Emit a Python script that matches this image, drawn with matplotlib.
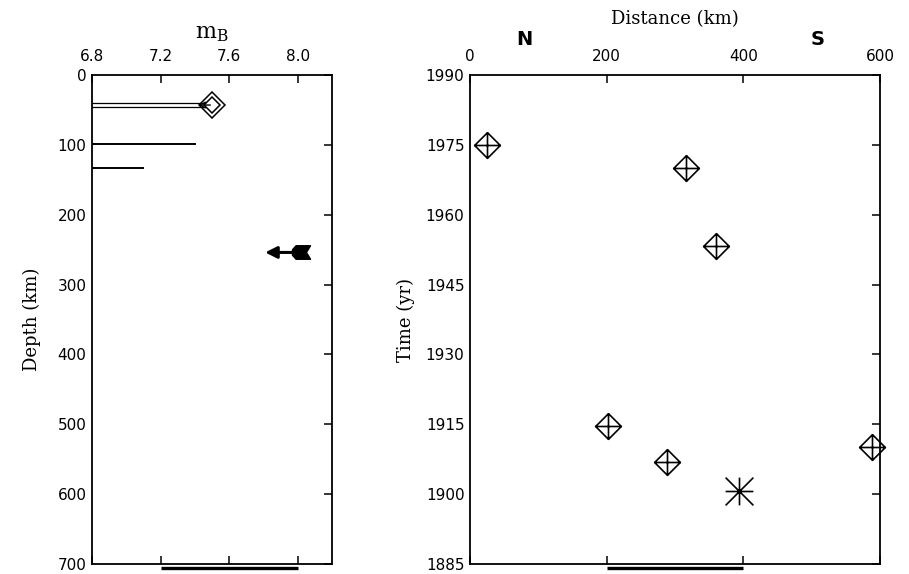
import numpy as np
import matplotlib
matplotlib.use('Agg')
import matplotlib.pyplot as plt
from matplotlib.path import Path

# left panel: magnitude vs depth
mb_bars = [7.5, 7.4, 7.1]          # mB reached by each bar
depth_bars = [43, 99, 133]         # km
double_bar = [True, False, False]
arrow_depth = 254
arrow_mb = [8.07, 7.81]            # tail, head

# right panel: distance vs time
dist = [25, 316, 360, 202, 288, 588]
year = [1975, 1970, 1953.3, 1914.6, 1906.8, 1910.2]
star_dist = [394]
star_year = [1900.7]

mb_ticks = [6.8, 7.2, 7.6, 8.0]
depth_ticks = [0, 100, 200, 300, 400, 500, 600, 700]
dist_ticks = [0, 200, 400, 600]
year_ticks = [1885, 1900, 1915, 1930, 1945, 1960, 1975, 1990]

serif = 'DejaVu Serif'
tickfont = 11

# marker shapes
M, L = Path.MOVETO, Path.LINETO
diamond_cross = Path(
    [(0, 1), (1, 0), (0, -1), (-1, 0), (0, 1), (-1, 0), (1, 0), (0, -1), (0, 1)],
    [M, L, L, L, L, M, L, M, L])
star = Path(
    [(-1, 0), (1, 0), (0, -1), (0, 1), (-1, -1), (1, 1), (-1, 1), (1, -1)],
    [M, L, M, L, M, L, M, L])
fletch = Path(
    [(-1, 0.3), (-0.6, 0.75), (1, 0.75), (0.55, 0), (1, -0.75), (-0.6, -0.75),
     (-1, -0.3), (-1, 0.3)],
    [M, L, L, L, L, L, L, L])

fig = plt.figure(figsize=(9.09, 5.74), dpi=100)
ax1 = fig.add_axes([92/909, 1-564/574, 240/909, 489/574])
ax2 = fig.add_axes([470/909, 1-564/574, 410/909, 489/574])

for ax in (ax1, ax2):
    for s in ax.spines.values():
        s.set_linewidth(1.3)
    ax.tick_params(direction='in', length=6, width=1.1, labelsize=tickfont,
                   top=True, bottom=True, left=False, right=True,
                   labeltop=True, labelbottom=False, pad=4)
    ax.tick_params(axis='x', pad=8)

# ---- left panel
ax1.set_xlim(6.8, 8.2)
ax1.set_ylim(700, 0)
ax1.set_xticks(mb_ticks)
ax1.set_xticklabels(['6.8', '7.2', '7.6', '8.0'])
ax1.set_yticks(depth_ticks)
ax1.set_yticklabels([str(d) for d in depth_ticks])

for m, d, dbl in zip(mb_bars, depth_bars, double_bar):
    if dbl:
        ax1.plot([6.8, m - 0.04], [d - 2.4, d - 2.4], color='k', lw=0.9)
        ax1.plot([6.8, m - 0.04], [d + 2.4, d + 2.4], color='k', lw=0.9)
        ax1.annotate('', xy=(m - 0.08, d), xytext=(m - 0.01, d),
                     arrowprops=dict(arrowstyle='->', color='k', lw=1.0,
                                     shrinkA=0, shrinkB=0))
        ax1.plot([m], [d], marker='D', ms=13, mfc='none', mec='k', mew=1.1)
        ax1.plot([m], [d], marker='D', ms=8, mfc='none', mec='k', mew=1.1)
    else:
        ax1.plot([6.8, m], [d, d], color='k', lw=1.4)

ax1.annotate('', xy=(arrow_mb[1], arrow_depth), xytext=(arrow_mb[0] - 0.06, arrow_depth),
             arrowprops=dict(arrowstyle='-|>,head_length=0.7,head_width=0.35',
                             color='k', lw=2.2, shrinkA=0, shrinkB=0))
ax1.plot([arrow_mb[0] - 0.05], [arrow_depth], marker=fletch, ms=13, color='k')

ax1.set_ylabel('Depth (km)', family=serif, fontsize=13, labelpad=12)
ax1.set_title(r'm$_\mathregular{B}$', family=serif, fontsize=16, pad=26)
ax1.plot([7.2, 8.0], [706, 706], color='k', lw=2.4, clip_on=False,
         solid_capstyle='butt')

# ---- right panel
ax2.set_xlim(0, 600)
ax2.set_ylim(1885, 1990)
ax2.set_xticks(dist_ticks)
ax2.set_yticks(year_ticks)
ax2.plot(dist, year, ls='none', marker=diamond_cross, ms=18.5,
         mfc='none', mec='k', mew=1.2, clip_on=False)
ax2.plot(star_dist, star_year, ls='none', marker=star, ms=20,
         mec='k', mew=1.2)

ax2.set_ylabel('Time (yr)', family=serif, fontsize=13, labelpad=8)
ax2.set_title('Distance (km)', family=serif, fontsize=13, pad=37)
ax2.text(80, 1995.6, 'N', fontsize=14, fontweight='bold', ha='center', va='bottom')
ax2.text(508, 1995.6, 'S', fontsize=14, fontweight='bold', ha='center', va='bottom')
ax2.plot([200, 400], [1884.1, 1884.1], color='k', lw=2.4, clip_on=False,
         solid_capstyle='butt')

fig.savefig('out.png', dpi=100)
